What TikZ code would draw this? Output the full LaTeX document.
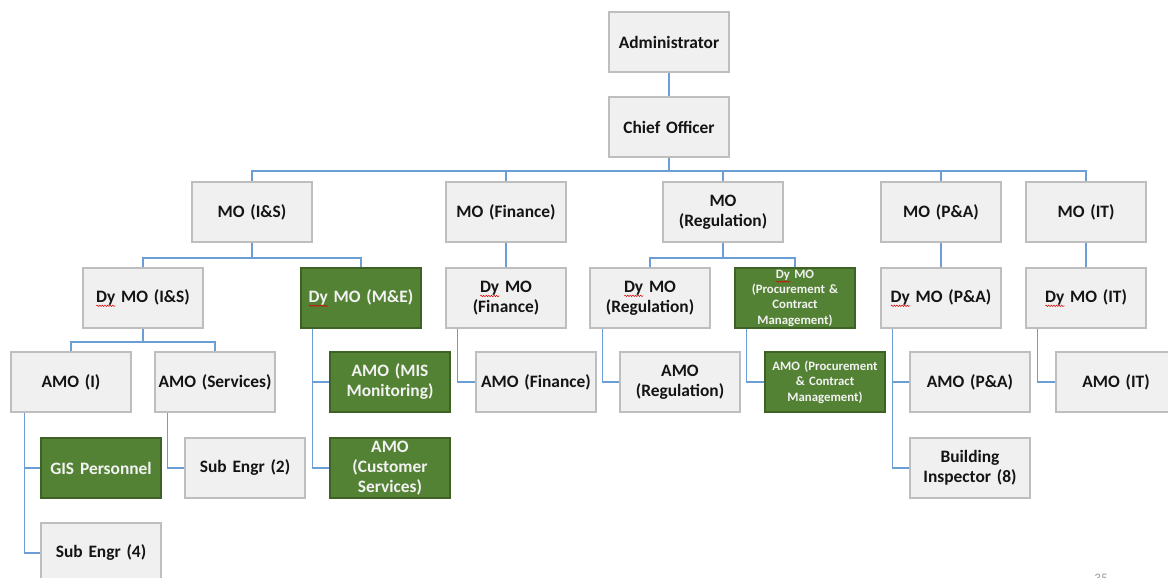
\documentclass[tikz,border=0pt]{standalone}
\usepackage{fontspec}
\setmainfont{Carlito}
\usetikzlibrary{decorations.pathmorphing}

\definecolor{boxfill}{RGB}{240,240,240}
\definecolor{boxline}{RGB}{190,190,190}
\definecolor{greenfill}{RGB}{84,130,53}
\definecolor{greenline}{RGB}{62,98,38}
\definecolor{linkblue}{RGB}{108,158,214}
\definecolor{textdark}{RGB}{20,20,20}
\definecolor{textlight}{RGB}{242,242,242}

% red spell-check squiggle under a word
\newlength\spellw
\newcommand\spell[1]{\settowidth\spellw{#1}\rlap{\tikz[baseline=0pt]\draw[red!85!black, line width=0.5pt, decorate, decoration={snake, amplitude=0.7pt, segment length=2.6pt}] (0pt,-3.6pt) -- (\spellw,-3.6pt);}#1}

\tikzset{
  post/.style={draw=boxline, fill=boxfill, line width=1.2pt, minimum width=120pt,
    minimum height=60pt, inner sep=0pt, text width=116pt, align=center,
    text=textdark, font=\fontsize{17.4}{20}\selectfont\bfseries},
  greenpost/.style={post, draw=greenline, fill=greenfill, text=textlight},
  smalltext/.style={font=\fontsize{12.8}{15.4}\selectfont\bfseries},
  link/.style={draw=linkblue, line width=1.8pt},
}

\begin{document}
\begin{tikzpicture}[x=1pt, y=-1pt]
\useasboundingbox (0,0) rectangle (1168,578);

% top of the chart
\node[post] (adm) at (669,42) {Administrator};
\node[post] (co)  at (669,127) {Chief Officer};

% managing officers
\node[post] (mois)  at (252,212) {MO (I\&S)};
\node[post] (mofin) at (506,212) {MO (Finance)};
\node[post] (moreg) at (723,212) {MO\\(Regulation)};
\node[post] (mopa)  at (941,212) {MO (P\&A)};
\node[post] (moit)  at (1086,212) {MO (IT)};

% deputies
\node[post]      (dmis)  at (143,298) {\spell{Dy} MO (I\&S)};
\node[greenpost] (dmme)  at (361,298) {\spell{Dy} MO (M\&E)};
\node[post]      (dmfin) at (506,298) {\spell{Dy} MO\\(Finance)};
\node[post]      (dmreg) at (650,298) {\spell{Dy} MO\\(Regulation)};
\node[greenpost, smalltext] (dmpro) at (795,298) {\spell{Dy} MO\\(Procurement \&\\Contract\\Management)};
\node[post]      (dmpa)  at (941,298) {\spell{Dy} MO (P\&A)};
\node[post]      (dmit)  at (1086,298) {\spell{Dy} MO (IT)};

% assistant officers
\node[post]      (amoi)   at (71,382)  {AMO (I)};
\node[post]      (amos)   at (215,382) {AMO (Services)};
\node[greenpost] (mis)    at (390,382) {AMO (MIS\\Monitoring)};
\node[post]      (amofin) at (536,382) {AMO (Finance)};
\node[post]      (amoreg) at (680,382) {AMO\\(Regulation)};
\node[greenpost, smalltext] (amopro) at (825,382) {AMO (Procurement\\\& Contract\\Management)};
\node[post]      (amopa)  at (970,382) {AMO (P\&A)};
\node[post]      (amoit)  at (1116,382) {AMO (IT)};

% lowest level
\node[greenpost] (gis) at (101,468) {GIS Personnel};
\node[post]      (se2) at (245,468) {Sub Engr (2)};
\node[greenpost] (cs)  at (390,468) {AMO\\(Customer\\Services)};
\node[post]      (bi)  at (970,468) {Building\\Inspector (8)};
\node[post]      (se4) at (101,553) {Sub Engr (4)};

% page number, running off the lower edge
\node[anchor=north, text=black!40, font=\fontsize{13}{15}\selectfont] (pg) at (1101,571) {35};

% connectors
\draw[link] (adm.south) -- (co.north);
\foreach \m in {mois,mofin,moreg,mopa,moit}
  \draw[link] (co.south) -- ++(0,13) -| (\m.north);

\draw[link] (mois.south) -- ++(0,15) -| (dmis.north);
\draw[link] (mois.south) -- ++(0,15) -| (dmme.north);
\draw[link] (mofin.south) -- (dmfin.north);
\draw[link] (moreg.south) -- ++(0,15) -| (dmreg.north);
\draw[link] (moreg.south) -- ++(0,15) -| (dmpro.north);
\draw[link] (mopa.south) -- (dmpa.north);
\draw[link] (moit.south) -- (dmit.north);

\draw[link] (dmis.south) -- ++(0,13) -| (amoi.north);
\draw[link] (dmis.south) -- ++(0,13) -| (amos.north);

\draw[link] ([xshift=14pt]amoi.south west) |- (gis.west);
\draw[link] ([xshift=14pt]amoi.south west) |- (se4.west);
\draw[link] ([xshift=13pt]amos.south west) |- (se2.west);
\draw[link] ([xshift=12pt]dmme.south west) |- (mis.west);
\draw[link] ([xshift=12pt]dmme.south west) |- (cs.west);
\draw[link] ([xshift=12pt]dmfin.south west) |- (amofin.west);
\draw[link] ([xshift=13pt]dmreg.south west) |- (amoreg.west);
\draw[link] ([xshift=12pt]dmpro.south west) |- (amopro.west);
\draw[link] ([xshift=12pt]dmpa.south west) |- (amopa.west);
\draw[link] ([xshift=12pt]dmpa.south west) |- (bi.west);
\draw[link] ([xshift=12pt]dmit.south west) |- (amoit.west);
\end{tikzpicture}
\end{document}
